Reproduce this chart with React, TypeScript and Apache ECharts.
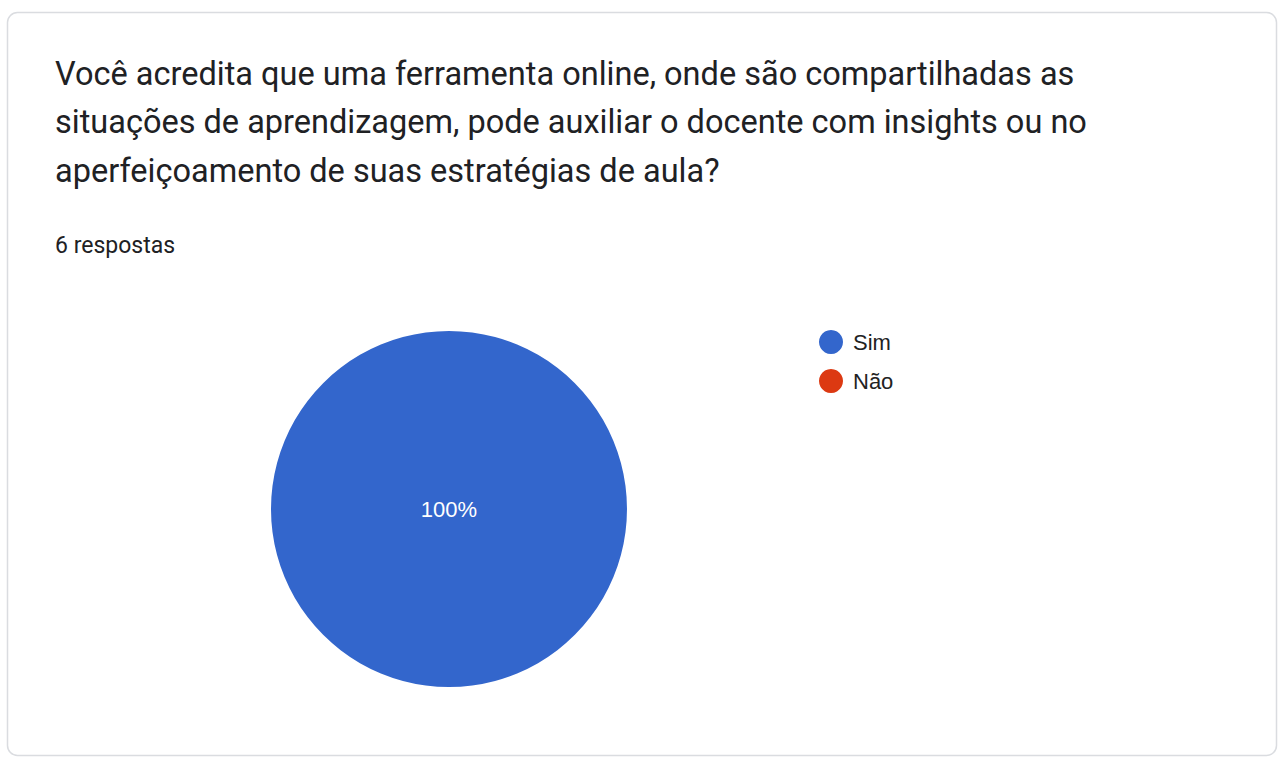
import React, { useEffect, useRef } from "react";
import * as echarts from "echarts";

const titleLines = [
  "Você acredita que uma ferramenta online, onde são compartilhadas as",
  "situações de aprendizagem, pode auxiliar o docente com insights ou no",
  "aperfeiçoamento de suas estratégias de aula?",
];
const subtitle = "6 respostas";
const categories = ["Sim", "Não"];
const values = [6, 0];
const colors = ["#3366cc", "#dc3912"];

export default function App() {
  const ref = useRef<HTMLDivElement>(null);
  useEffect(() => {
    if (!ref.current) return;
    const chart = echarts.init(ref.current, undefined, { renderer: "svg" });
    const total = values.reduce((a, b) => a + b, 0);
    chart.setOption({
      animation: false,
      backgroundColor: "#ffffff",
      graphic: [
        {
          type: "rect",
          shape: { x: 7.5, y: 12.5, width: 1269, height: 743, r: 10 },
          style: { fill: "#ffffff", stroke: "#dadce0", lineWidth: 1.5 },
          z: -10,
        },
        ...titleLines.map((t, i) => ({
          type: "text",
          left: 55,
          top: 57 + i * 48.5,
          style: {
            text: t,
            font: "400 32.5px Roboto",
            fill: "#202124",
          },
        })),
        {
          type: "text",
          left: 55,
          top: 234,
          style: { text: subtitle, font: "400 23px Roboto", fill: "#202124" },
        },
      ],
      legend: {
        orient: "vertical",
        left: 814,
        top: 325,
        icon: "circle",
        itemWidth: 24,
        itemHeight: 24,
        itemGap: 15,
        data: categories,
        textStyle: {
          fontSize: 22,
          color: "#222222",
          fontFamily: "Arial",
          padding: [0, 0, 0, 5],
        },
      },
      series: [
        {
          type: "pie",
          center: [449, 509],
          radius: 178,
          startAngle: 90,
          label: { show: false },
          labelLine: { show: false },
          emphasis: { disabled: true },
          data: categories.map((c, i) => ({
            name: c,
            value: values[i],
            itemStyle: { color: colors[i] },
            label:
              values[i] === total
                ? {
                    show: true,
                    position: "center",
                    formatter: () => `${Math.round((values[i] / total) * 100)}%`,
                    color: "#ffffff",
                    fontSize: 22,
                    fontFamily: "Arial",
                  }
                : { show: false },
          })),
        },
      ],
    });
    return () => chart.dispose();
  }, []);
  return (
    <div
      ref={ref}
      style={{ position: "fixed", left: 0, top: 0, width: 1285, height: 763 }}
    />
  );
}
